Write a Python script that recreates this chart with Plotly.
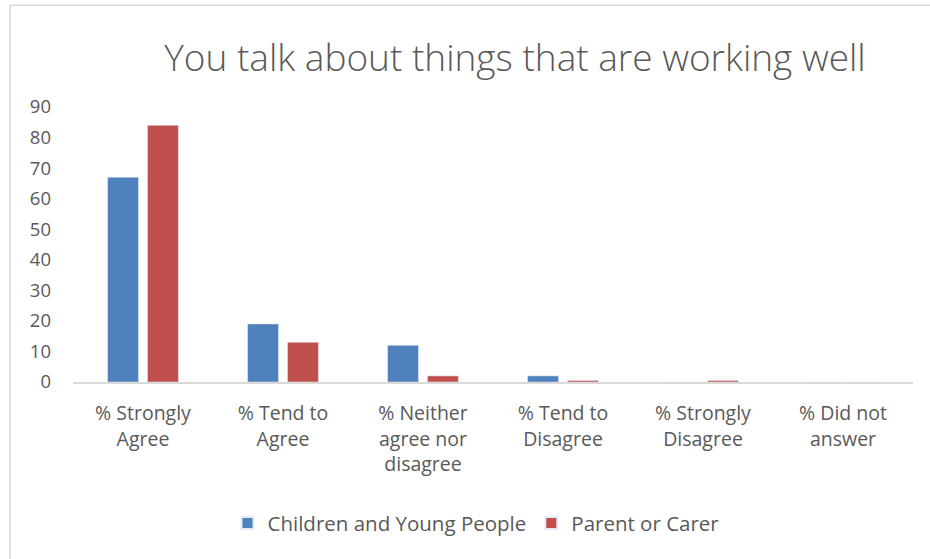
import plotly.graph_objects as go

# Survey responses (percent)
categories = [
    "% Strongly<br>Agree",
    "% Tend to<br>Agree",
    "% Neither<br>agree nor<br>disagree",
    "% Tend to<br>Disagree",
    "% Strongly<br>Disagree",
    "% Did not<br>answer",
]
children_young_people = [67, 19, 12, 2, 0, 0]
parent_or_carer = [84, 13, 2, 0.5, 0.5, 0]
y_ticks = [0, 10, 20, 30, 40, 50, 60, 70, 80, 90]

TEXT = "#595959"
FONT = "Open Sans"

fig = go.Figure()
fig.add_trace(go.Bar(
    x=categories, y=children_young_people, name="Children and Young People",
    marker=dict(color="#4F81BD"),
))
fig.add_trace(go.Bar(
    x=categories, y=parent_or_carer, name="Parent or Carer",
    marker=dict(color="#C0504D"),
))

W, H = 930, 559
L, R, T, B = 73, 17, 107, 176.5
pw, ph = W - L - R, H - T - B


def px_to_paper_x(px):
    return (px - L) / pw


def px_to_paper_y(py):
    return (H - B - py) / ph


fig.update_layout(
    width=W, height=H,
    margin=dict(l=L, r=R, t=T, b=B, pad=0),
    paper_bgcolor="white", plot_bgcolor="white",
    barmode="group", bargap=0.43, bargroupgap=0.225,
    font=dict(family=FONT, color=TEXT, size=19),
    title=dict(
        text="You talk about things that are working well",
        font=dict(family=FONT, size=37, color=TEXT, weight=300),
        x=px_to_paper_x(515), xref="paper", xanchor="center",
        y=1 - 58 / H, yref="container", yanchor="middle",
    ),
    legend=dict(
        orientation="h", x=px_to_paper_x(476), xanchor="center",
        y=px_to_paper_y(524), yanchor="middle",
        font=dict(family=FONT, size=20.5, color=TEXT),
        itemsizing="constant", traceorder="normal",
    ),
    xaxis=dict(
        showgrid=False, showline=True, linecolor="#D9D9D9", linewidth=2,
        ticks="", ticklabelstandoff=13,
        tickfont=dict(family=FONT, size=19.5, color=TEXT),
    ),
    yaxis=dict(
        range=[0, 90], tickvals=y_ticks, showgrid=False, zeroline=False,
        showline=False, ticks="", ticklabelstandoff=21,
        tickfont=dict(family=FONT, size=18.5, color=TEXT),
    ),
    shapes=[
        dict(type="line", xref="paper", yref="paper",
             x0=px_to_paper_x(10), x1=px_to_paper_x(10),
             y0=px_to_paper_y(5), y1=px_to_paper_y(H + 5),
             line=dict(color="#D9D9D9", width=1.5)),
        dict(type="line", xref="paper", yref="paper",
             x0=px_to_paper_x(10), x1=px_to_paper_x(W + 5),
             y0=px_to_paper_y(5), y1=px_to_paper_y(5),
             line=dict(color="#D9D9D9", width=1.5)),
    ],
)

fig.write_html("out.html")
